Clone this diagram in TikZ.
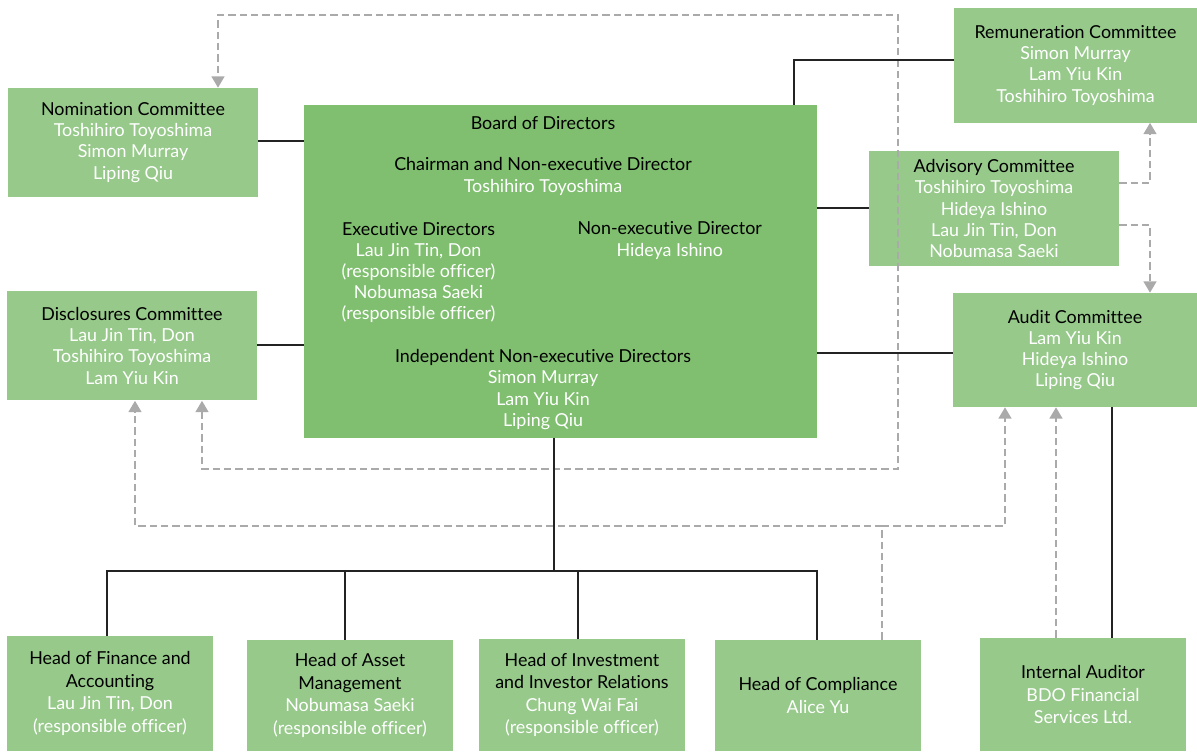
\documentclass[tikz,border=0pt]{standalone}
\usepackage{fontspec}
\setmainfont{Lato}[Ligatures={NoCommon,NoRare}]
\usetikzlibrary{arrows.meta}
\definecolor{lightgreen}{RGB}{150,201,138}
\definecolor{boardgreen}{RGB}{127,191,111}
\definecolor{dashgray}{RGB}{170,170,170}
\definecolor{lineblack}{RGB}{35,35,35}
\newcommand\dfont{\fontsize{13.4}{15.9}\selectfont}
\newcommand\bfontsz{\fontsize{13.4}{16.9}\selectfont}
\newcommand\nm[1]{\textcolor{white}{#1}}
\begin{document}
\begin{tikzpicture}[x=0.75pt,y=-0.75pt,
  box/.style={fill=lightgreen, draw=none, inner sep=0pt, align=center, font=\dfont, text=black},
  bottombox/.style={box, font=\bfontsz, minimum width=154.5pt},
  boardbox/.style={fill=boardgreen, draw=none, inner sep=0pt},
  btext/.style={inner sep=0pt, align=center, font=\dfont, text=black},
  conn/.style={draw=lineblack, line width=1.1pt},
  dsh/.style={draw=dashgray, line width=1.75pt, dash pattern=on 5.5pt off 3pt},
  tip/.style={-{Triangle[width=9.5pt,length=8.5pt]}},
  twotip/.style={{Triangle[width=9.5pt,length=8.5pt]}-{Triangle[width=9.5pt,length=8.5pt]}}
]
\useasboundingbox (0,0) rectangle (1197,751);

% boxes
\node[boardbox, minimum width=384.75pt, minimum height=249.4pt] (board) at (560.5,271.25) {};
\node[box, minimum width=187.5pt, minimum height=81.75pt] (nom) at (133,142.5)
  {Nomination Committee\\\nm{Toshihiro Toyoshima}\\\nm{Simon Murray}\\\nm{Liping Qiu}};
\node[box, minimum width=182.25pt, minimum height=85.9pt] (rem) at (1075.5,65.25)
  {Remuneration Committee\\\nm{Simon Murray}\\\nm{Lam Yiu Kin}\\\nm{Toshihiro Toyoshima}};
\node[box, minimum width=187.5pt, minimum height=86.25pt] (adv) at (994,208.5)
  {Advisory Committee\\\nm{Toshihiro Toyoshima}\\\nm{Hideya Ishino}\\\nm{Lau Jin Tin, Don}\\\nm{Nobumasa Saeki}};
\node[box, minimum width=187.5pt, minimum height=82.1pt] (disc) at (132,345.75)
  {Disclosures Committee\\\nm{Lau Jin Tin, Don}\\\nm{Toshihiro Toyoshima}\\\nm{Lam Yiu Kin}};
\node[box, minimum width=183pt, minimum height=85.5pt] (audit) at (1075,350)
  {Audit Committee\\\nm{Lam Yiu Kin}\\\nm{Hideya Ishino}\\\nm{Liping Qiu}};

\node[bottombox, minimum height=86.25pt] (fin) at (110,693.5)
  {Head of Finance and\\Accounting\\\nm{Lau Jin Tin, Don}\\\nm{(responsible officer)}};
\node[bottombox, minimum height=83.25pt] (asset) at (350,695.5)
  {Head of Asset\\Management\\\nm{Nobumasa Saeki}\\\nm{(responsible officer)}};
\node[bottombox, minimum height=84pt] (inv) at (582,695)
  {Head of Investment\\and Investor Relations\\\nm{Chung Wai Fai}\\\nm{(responsible officer)}};
\node[bottombox, minimum height=83.25pt] (comp) at (818,695.5)
  {Head of Compliance\\\nm{Alice Yu}};
\node[bottombox, minimum height=84.75pt] (ia) at (1083,694.5)
  {Internal Auditor\\\nm{BDO Financial}\\\nm{Services Ltd.}};

% board text
\node[btext] (bt1) at (543,122.5) {Board of Directors};
\node[btext] (bt2) at (543,176.5) {Chairman and Non-executive Director\\\nm{Toshihiro Toyoshima}};
\node[btext] (bt3) at (418.5,272.5) {Executive Directors\\\nm{Lau Jin Tin, Don}\\\nm{(responsible officer)}\\\nm{Nobumasa Saeki}\\\nm{(responsible officer)}};
\node[btext] (bt4) at (669.7,240.5) {Non-executive Director\\\nm{Hideya Ishino}};
\node[btext] (bt5) at (543,389.5) {Independent Non-executive Directors\\\nm{Simon Murray}\\\nm{Lam Yiu Kin}\\\nm{Liping Qiu}};

% helper coordinates
\coordinate (ynom) at (0,141);
\coordinate (ydisc) at (0,345);
\coordinate (yadv) at (0,208);
\coordinate (yaud) at (0,353);
\coordinate (rj) at (794,60);
\coordinate (trunk) at (554,571);
\coordinate (d1) at (107,571);
\coordinate (d2) at (345,571);
\coordinate (d3) at (578,571);
\coordinate (d4) at (817,571);
\coordinate (d5) at (1112,0);
\coordinate (c1) at (882,526);
\coordinate (a1) at (135,526);
\coordinate (a2) at (1005,526);
\coordinate (a3) at (1056,0);
\coordinate (lp1) at (202,469);
\coordinate (lp2) at (898,469);
\coordinate (lp3) at (898,15);
\coordinate (lp4) at (218,15);
\coordinate (ar1) at (1150,183);
\coordinate (ar2) at (1150,225);

% dashed connectors
\draw[dsh, twotip] (disc.south -| lp1) -- (lp1) -- (lp2) -- (lp3) -- (lp4) -- (nom.north -| lp4);
\draw[dsh, tip] (comp.north -| c1) -- (c1) -- (a1) -- (disc.south -| a1);
\draw[dsh, tip] (c1) -- (a2) -- (audit.south -| a2);
\draw[dsh, tip] (ia.north -| a3) -- (audit.south -| a3);
\draw[dsh, tip] (adv.east |- ar1) -- (ar1) -- (rem.south -| ar1);
\draw[dsh, tip] (adv.east |- ar2) -- (ar2) -- (audit.north -| ar2);

% solid connectors
\draw[conn] (nom.east |- ynom) -- (board.west |- ynom);
\draw[conn] (disc.east |- ydisc) -- (board.west |- ydisc);
\draw[conn] (board.east |- yadv) -- (adv.west |- yadv);
\draw[conn] (board.east |- yaud) -- (audit.west |- yaud);
\draw[conn] (board.north -| rj) -- (rj) -- (rem.west |- rj);
\draw[conn] (board.south -| trunk) -- (trunk);
\draw[conn] (fin.north -| d1) -- (d1) -- (d4) -- (comp.north -| d4);
\draw[conn] (asset.north -| d2) -- (d2);
\draw[conn] (inv.north -| d3) -- (d3);
\draw[conn] (audit.south -| d5) -- (ia.north -| d5);
\end{tikzpicture}
\end{document}
